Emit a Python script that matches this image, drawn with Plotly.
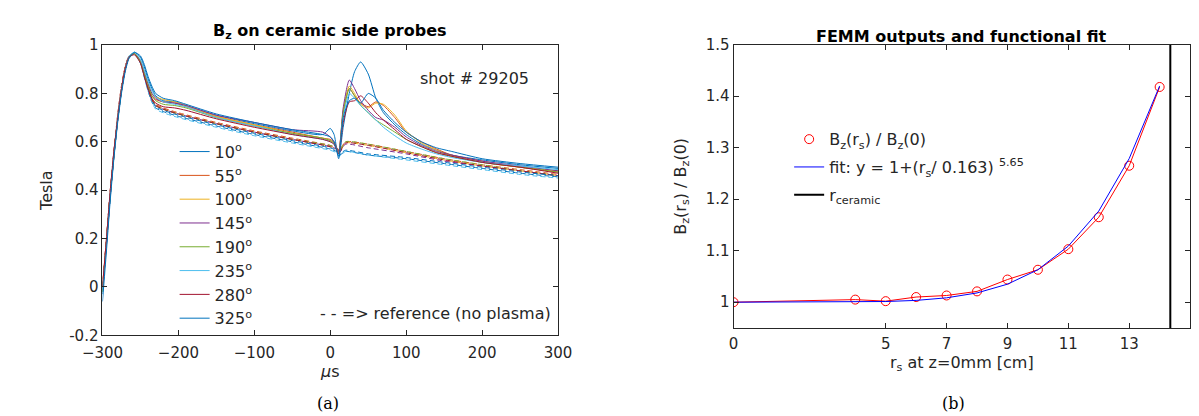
import plotly.graph_objects as go

# ---------------------------------------------------------------- data (a)
probe_labels = ["10", "55", "100", "145", "190", "235", "280", "325"]
probe_colors = ["#0072BD", "#D95319", "#EDB120", "#7E2F8E",
                "#77AC30", "#4DBEEE", "#A2142F", "#0072BD"]

t_us = [-300, -295, -290, -285, -280, -275, -270, -265, -258, -250, -245,
        -240, -235, -230, -220, -205, -190, -150, -100, -50, -10, 0, 5, 11,
        17, 25, 32, 40, 50, 60, 70, 85, 100, 120, 140, 160, 200, 250, 300]

bz_10 = [-0.03, 0.17, 0.37, 0.54, 0.69, 0.81, 0.90, 0.95, 0.97, 0.95, 0.91,
         0.86, 0.82, 0.79, 0.77, 0.765, 0.75, 0.71, 0.675, 0.645, 0.63, 0.655,
         0.63, 0.53, 0.66, 0.80, 0.89, 0.93, 0.88, 0.78, 0.72, 0.67, 0.63,
         0.59, 0.565, 0.545, 0.525, 0.505, 0.49]
bz_55 = [0.0, 0.19, 0.38, 0.55, 0.70, 0.82, 0.91, 0.955, 0.965, 0.93, 0.88,
         0.83, 0.79, 0.775, 0.765, 0.76, 0.745, 0.705, 0.67, 0.64, 0.615,
         0.61, 0.60, 0.56, 0.72, 0.82, 0.79, 0.76, 0.745, 0.765, 0.75, 0.70,
         0.64, 0.60, 0.57, 0.545, 0.52, 0.495, 0.475]
bz_100 = [0.0, 0.18, 0.38, 0.55, 0.70, 0.82, 0.905, 0.95, 0.965, 0.935, 0.89,
          0.84, 0.80, 0.785, 0.775, 0.765, 0.75, 0.705, 0.67, 0.635, 0.615,
          0.605, 0.595, 0.56, 0.73, 0.83, 0.80, 0.755, 0.74, 0.76, 0.755,
          0.71, 0.645, 0.595, 0.565, 0.54, 0.515, 0.495, 0.48]
bz_145 = [-0.01, 0.17, 0.37, 0.54, 0.69, 0.81, 0.90, 0.95, 0.965, 0.935,
          0.89, 0.84, 0.80, 0.78, 0.765, 0.76, 0.75, 0.71, 0.68, 0.65, 0.64,
          0.62, 0.60, 0.56, 0.74, 0.855, 0.82, 0.77, 0.73, 0.70, 0.69, 0.66,
          0.62, 0.585, 0.56, 0.545, 0.52, 0.50, 0.48]
bz_190 = [-0.02, 0.17, 0.37, 0.54, 0.69, 0.81, 0.90, 0.95, 0.965, 0.93, 0.88,
          0.83, 0.79, 0.77, 0.755, 0.75, 0.74, 0.70, 0.665, 0.635, 0.615,
          0.605, 0.595, 0.55, 0.72, 0.82, 0.79, 0.75, 0.72, 0.69, 0.67, 0.64,
          0.61, 0.58, 0.555, 0.54, 0.515, 0.495, 0.475]
bz_235 = [-0.01, 0.18, 0.38, 0.55, 0.70, 0.82, 0.905, 0.955, 0.97, 0.94,
          0.895, 0.85, 0.81, 0.785, 0.765, 0.755, 0.745, 0.70, 0.665, 0.63,
          0.61, 0.60, 0.59, 0.55, 0.70, 0.80, 0.78, 0.75, 0.72, 0.69, 0.66,
          0.625, 0.595, 0.57, 0.55, 0.535, 0.515, 0.50, 0.485]
bz_280 = [0.0, 0.19, 0.39, 0.56, 0.70, 0.82, 0.905, 0.95, 0.96, 0.925, 0.87,
          0.82, 0.78, 0.76, 0.745, 0.74, 0.73, 0.695, 0.66, 0.63, 0.61, 0.60,
          0.59, 0.55, 0.68, 0.765, 0.77, 0.79, 0.76, 0.72, 0.69, 0.65, 0.61,
          0.58, 0.555, 0.54, 0.515, 0.495, 0.47]
bz_325 = [-0.06, 0.14, 0.35, 0.53, 0.68, 0.80, 0.89, 0.945, 0.97, 0.955,
          0.92, 0.87, 0.83, 0.80, 0.78, 0.77, 0.755, 0.715, 0.68, 0.65, 0.63,
          0.62, 0.60, 0.54, 0.70, 0.77, 0.78, 0.76, 0.80, 0.78, 0.73, 0.68,
          0.64, 0.60, 0.575, 0.56, 0.53, 0.51, 0.495]

# reference shots (no plasma), dashed
t_ref = [-300, -295, -290, -285, -280, -275, -270, -265, -258, -250, -245,
         -240, -235, -230, -220, -200, -150, -100, -50, 0, 8, 12, 20, 50,
         100, 150, 200, 250, 300]
ref_10 = [0.0, 0.17, 0.37, 0.54, 0.69, 0.81, 0.90, 0.95, 0.965, 0.925, 0.87,
          0.81, 0.765, 0.74, 0.725, 0.705, 0.665, 0.63, 0.60, 0.57, 0.56,
          0.545, 0.56, 0.545, 0.53, 0.51, 0.49, 0.47, 0.455]
ref_55 = [0.0, 0.19, 0.39, 0.56, 0.71, 0.83, 0.91, 0.955, 0.965, 0.93, 0.875,
          0.82, 0.78, 0.755, 0.74, 0.72, 0.68, 0.645, 0.615, 0.585, 0.575,
          0.565, 0.60, 0.59, 0.56, 0.53, 0.505, 0.485, 0.465]
ref_100 = [0.0, 0.18, 0.38, 0.55, 0.70, 0.82, 0.905, 0.95, 0.965, 0.93,
           0.875, 0.82, 0.775, 0.75, 0.735, 0.715, 0.675, 0.64, 0.61, 0.58,
           0.57, 0.56, 0.595, 0.585, 0.555, 0.525, 0.50, 0.48, 0.46]
ref_145 = [-0.01, 0.17, 0.37, 0.55, 0.70, 0.82, 0.90, 0.95, 0.965, 0.93,
           0.87, 0.815, 0.77, 0.75, 0.735, 0.715, 0.675, 0.64, 0.61, 0.58,
           0.57, 0.555, 0.59, 0.575, 0.55, 0.52, 0.50, 0.48, 0.46]
ref_190 = [0.0, 0.18, 0.38, 0.55, 0.70, 0.82, 0.905, 0.95, 0.965, 0.93,
           0.875, 0.82, 0.775, 0.75, 0.735, 0.715, 0.675, 0.64, 0.61, 0.585,
           0.575, 0.56, 0.60, 0.59, 0.56, 0.53, 0.505, 0.48, 0.46]
ref_235 = [-0.01, 0.17, 0.37, 0.54, 0.69, 0.81, 0.90, 0.945, 0.965, 0.925,
           0.865, 0.81, 0.765, 0.735, 0.72, 0.70, 0.66, 0.625, 0.595, 0.565,
           0.555, 0.54, 0.56, 0.545, 0.525, 0.505, 0.485, 0.465, 0.45]
ref_280 = [0.0, 0.19, 0.39, 0.56, 0.71, 0.83, 0.91, 0.955, 0.965, 0.93,
           0.875, 0.82, 0.775, 0.75, 0.735, 0.715, 0.675, 0.64, 0.61, 0.58,
           0.57, 0.555, 0.595, 0.585, 0.555, 0.525, 0.50, 0.48, 0.46]
ref_325 = [-0.02, 0.16, 0.36, 0.54, 0.69, 0.81, 0.90, 0.95, 0.965, 0.93,
           0.875, 0.82, 0.775, 0.745, 0.73, 0.71, 0.67, 0.635, 0.605, 0.575,
           0.565, 0.55, 0.565, 0.55, 0.535, 0.515, 0.495, 0.475, 0.46]

shot_bz = [bz_10, bz_55, bz_100, bz_145, bz_190, bz_235, bz_280, bz_325]
ref_bz = [ref_10, ref_55, ref_100, ref_145, ref_190, ref_235, ref_280, ref_325]

# ---------------------------------------------------------------- data (b)
r_cm = [0, 4, 5, 6, 7, 8, 9, 10, 11, 12, 13, 14]
femm_ratio = [1.0, 1.005, 1.002, 1.010, 1.013, 1.021, 1.044, 1.063, 1.103,
              1.165, 1.265, 1.418]
fit_ratio = [1.0, 1.0004, 1.0013, 1.0035, 1.0085, 1.018, 1.035, 1.063, 1.109,
             1.177, 1.279, 1.42]
r_ceramic = 14.35

# ---------------------------------------------------------------- style
_FAMILY = "DejaVu Sans, Verdana, sans-serif"
_SERIF = "DejaVu Serif, Liberation Serif, serif"
_AX_COLOR = "#262626"
_FONT = dict(family=_FAMILY, size=15, color=_AX_COLOR)
_TEXT = dict(family=_FAMILY, size=16, color=_AX_COLOR)

_AXIS_COMMON = dict(
    showline=True,
    linecolor=_AX_COLOR,
    linewidth=1,
    mirror="ticks",
    ticks="inside",
    ticklen=5,
    tickcolor=_AX_COLOR,
    tickfont=_FONT,
    showgrid=False,
    zeroline=False,
)

fig = go.Figure()

for color, vals in zip(probe_colors, ref_bz):
    fig.add_trace(go.Scatter(
        x=t_ref, y=vals, xaxis="x", yaxis="y",
        mode="lines", showlegend=False, hoverinfo="skip",
        line=dict(color=color, width=1, dash="5px,3px",
                  shape="spline", smoothing=0.6),
    ))

for i, (name, color, vals) in enumerate(zip(probe_labels, probe_colors,
                                            shot_bz)):
    fig.add_trace(go.Scatter(
        x=t_us, y=vals, xaxis="x", yaxis="y",
        mode="lines", name=f"{name}<sup>o</sup>",
        legend="legend", legendgroup=f"p{i}",
        line=dict(color=color, width=1, shape="spline", smoothing=0.6),
    ))

fig.add_trace(go.Scatter(
    x=r_cm, y=femm_ratio, xaxis="x2", yaxis="y2",
    mode="lines", showlegend=False,
    line=dict(color="#FF0000", width=1),
))
fig.add_trace(go.Scatter(
    x=r_cm, y=femm_ratio, xaxis="x2", yaxis="y2",
    mode="markers", legend="legend2", legendgroup="femm",
    name="B<sub>z</sub>(r<sub>s</sub>) / B<sub>z</sub>(0)",
    marker=dict(symbol="circle-open", size=9, color="#FF0000",
                line=dict(width=1)),
))
fig.add_trace(go.Scatter(
    x=r_cm, y=fit_ratio, xaxis="x2", yaxis="y2",
    mode="lines", legend="legend2", legendgroup="fit",
    name="fit: y = 1+(r<sub>s</sub>/ 0.163) <sup>5.65</sup>",
    line=dict(color="#0000FF", width=1),
))
fig.add_trace(go.Scatter(
    x=[r_ceramic, r_ceramic], y=[0.95, 1.5], xaxis="x2", yaxis="y2",
    mode="lines", legend="legend2", legendgroup="rc",
    name="r<sub>ceramic</sub>",
    line=dict(color="#000000", width=2),
))

fig.update_layout(
    width=1199, height=416,
    margin=dict(l=0, r=0, t=0, b=0),
    paper_bgcolor="white",
    plot_bgcolor="white",
    font=_FONT,
    xaxis=dict(
        domain=[75.7 / 1199, 545 / 1199], range=[-300, 300],
        tickvals=[-300, -200, -100, 0, 100, 200, 300],
        ticklabelstandoff=4,
        title=dict(text="<i>μ</i>s", font=_TEXT, standoff=4),
        anchor="y", **_AXIS_COMMON,
    ),
    yaxis=dict(
        domain=[1 - 332.7 / 416, 1 - 29.3 / 416], range=[-0.2, 1],
        tickvals=[-0.2, 0, 0.2, 0.4, 0.6, 0.8, 1],
        ticktext=["-0.2", "0", "0.2", "0.4", "0.6", "0.8", "1"],
        title=dict(text="Tesla", font=_TEXT, standoff=12),
        anchor="x", **_AXIS_COMMON,
    ),
    xaxis2=dict(
        domain=[725.7 / 1199, 1196 / 1199], range=[0, 15],
        tickvals=[0, 5, 7, 9, 11, 13],
        ticklabelstandoff=2,
        title=dict(text="r<sub>s</sub> at z=0mm [cm]", font=_TEXT,
                   standoff=4),
        anchor="y2", **_AXIS_COMMON,
    ),
    yaxis2=dict(
        domain=[1 - 325 / 416, 1 - 29 / 416], range=[0.95, 1.5],
        tickvals=[1, 1.1, 1.2, 1.3, 1.4, 1.5],
        ticktext=["1", "1.1", "1.2", "1.3", "1.4", "1.5"],
        title=dict(text="B<sub>z</sub>(r<sub>s</sub>) / B<sub>z</sub>(0)",
                   font=_TEXT, standoff=15),
        anchor="x2", **_AXIS_COMMON,
    ),
    legend=dict(
        x=150 / 1199, y=1 - 123 / 416, xanchor="left", yanchor="top",
        bgcolor="rgba(0,0,0,0)", font=_TEXT,
        traceorder="grouped", tracegroupgap=0,
    ),
    legend2=dict(
        x=783 / 1199, y=1 - 110 / 416, xanchor="left", yanchor="top",
        bgcolor="rgba(0,0,0,0)", font=_TEXT,
        traceorder="grouped", tracegroupgap=4,
    ),
    annotations=[
        dict(text="<b>B<sub>z</sub> on ceramic side probes</b>",
             x=310 / 1199, y=1 - 2 / 416, xref="paper", yref="paper",
             xanchor="center", yanchor="top", showarrow=False,
             font=dict(family=_FAMILY, size=16, color="#000000")),
        dict(text="<b>FEMM outputs and functional fit</b>",
             x=961 / 1199, y=1 - 8 / 416, xref="paper", yref="paper",
             xanchor="center", yanchor="top", showarrow=False,
             font=dict(family=_FAMILY, size=16, color="#000000")),
        dict(text="shot # 29205", x=190, y=0.863, xref="x", yref="y",
             xanchor="center", yanchor="middle",
             showarrow=False, font=_TEXT),
        dict(text="- - => reference (no plasma)", x=139, y=-0.111,
             xref="x", yref="y", xanchor="center", yanchor="middle",
             showarrow=False, font=_TEXT),
        dict(text="(a)", x=308 / 1199, y=1 - 404 / 416, xref="paper",
             yref="paper", xanchor="center", yanchor="middle",
             showarrow=False,
             font=dict(family=_SERIF, size=16, color="#000000")),
        dict(text="(b)", x=952 / 1199, y=1 - 404 / 416, xref="paper",
             yref="paper", xanchor="center", yanchor="middle",
             showarrow=False,
             font=dict(family=_SERIF, size=16, color="#000000")),
    ],
)

fig.write_html("out.html")
